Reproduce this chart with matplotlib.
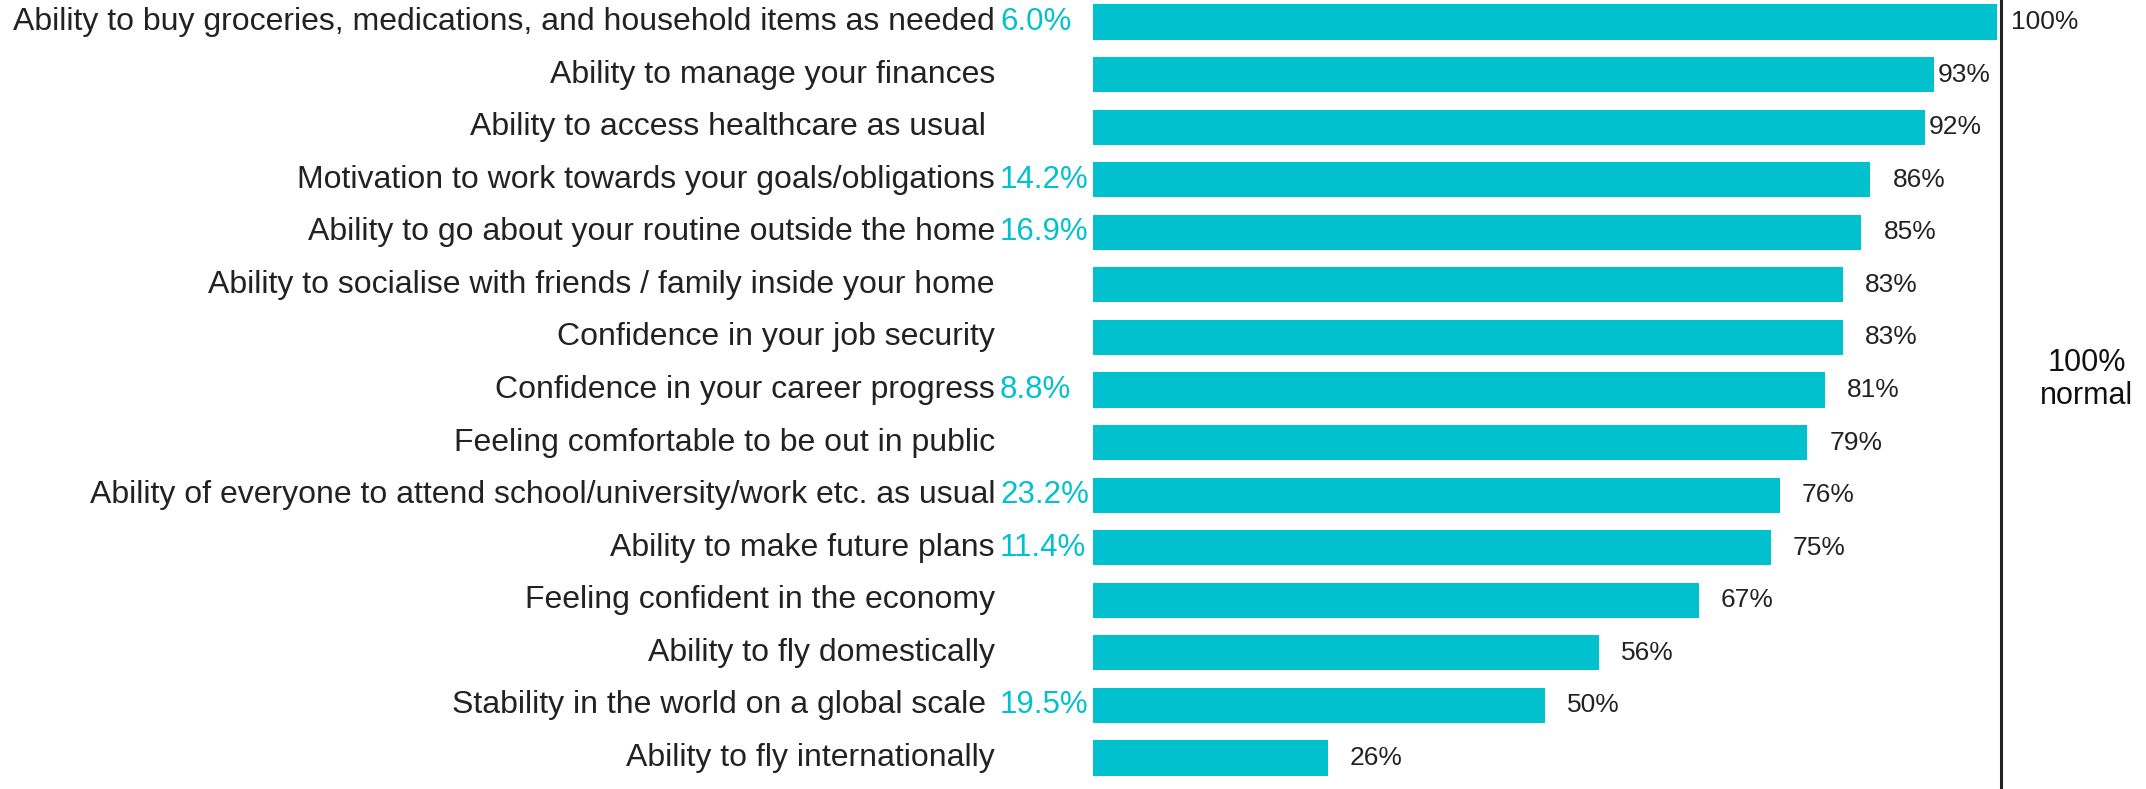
import matplotlib
matplotlib.use("Agg")
import matplotlib.pyplot as plt

plt.rcParams['font.family'] = ['Liberation Sans', 'DejaVu Sans']

categories = [
    "Ability to buy groceries, medications, and household items as needed",
    "Ability to manage your finances",
    "Ability to access healthcare as usual ",
    "Motivation to work towards your goals/obligations",
    "Ability to go about your routine outside the home",
    "Ability to socialise with friends / family inside your home",
    "Confidence in your job security",
    "Confidence in your career progress",
    "Feeling comfortable to be out in public",
    "Ability of everyone to attend school/university/work etc. as usual",
    "Ability to make future plans",
    "Feeling confident in the economy",
    "Ability to fly domestically",
    "Stability in the world on a global scale ",
    "Ability to fly internationally",
]
values = [100, 93, 92, 86, 85, 83, 83, 81, 79, 76, 75, 67, 56, 50, 26]
# importance shares shown next to some items (None = not shown)
importance = [6.0, None, None, 14.2, 16.9, None, None, 8.8, None, 23.2, 11.4, None, None, 19.5, None]

BAR = "#02c1cf"
TXT = "#222222"

fig = plt.figure(figsize=(21.46, 7.89), dpi=100)
# axes spans from the bar baseline to the right edge of the figure
ax = fig.add_axes([1093 / 2146, 0, 1 - 1093 / 2146, 1])
px = 904 / 100  # pixels per percent
ax.set_xlim(0, (2146 - 1093) / px)
row = 52.57
ax.set_ylim((789 - 22) / row, -22 / row)
ax.axis("off")

ys = list(range(len(categories)))
ax.barh(ys, values, height=0.67, color=BAR, edgecolor="none")

line_x = 100 + 4 / px
ax.axvline(line_x, color="#222222", lw=2.2)

for y, cat, v, imp in zip(ys, categories, values, importance):
    ax.text(-98 / px, y, cat, ha="right", va="center", fontsize=23, color=TXT)
    if imp is not None:
        ax.text(-93 / px, y, f"{imp:.1f}%", ha="left", va="center", fontsize=22.5, color=BAR)
    if v >= 100:
        x = line_x + 10 / px
    elif v >= 90:
        x = v + 4 / px
    else:
        x = v + 22 / px
    ax.text(x, y, f"{v}%", ha="left", va="center", fontsize=19, color=TXT)

ax.text(line_x + 86 / px, 6.8, "100%\nnormal", ha="center", va="center",
        fontsize=22, color="#111111", linespacing=1.15)

fig.savefig("out.png", dpi=100)
